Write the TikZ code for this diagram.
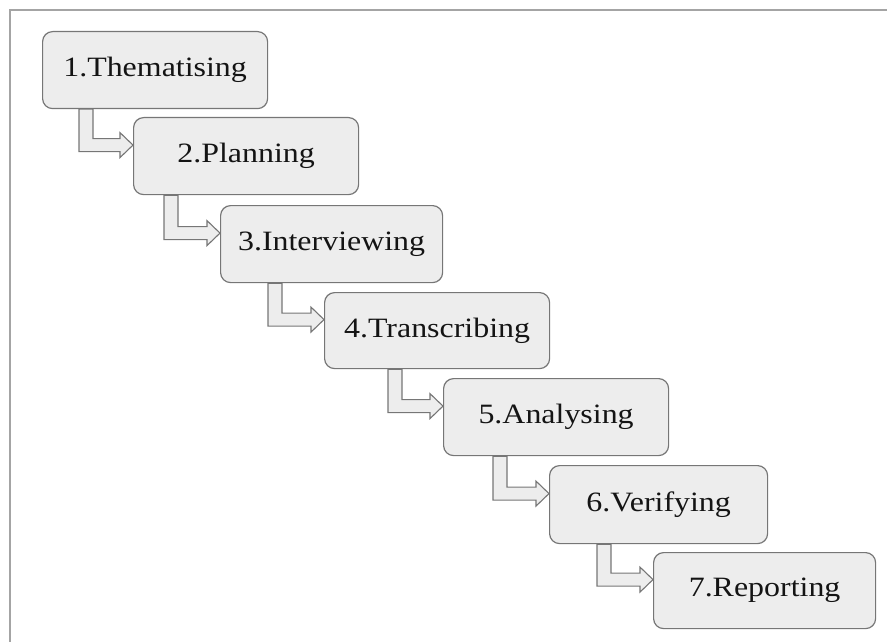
\documentclass[tikz,border=0pt]{standalone}
\usepackage{fontspec}
\setmainfont{Liberation Serif}
\newfontfamily\stepfont[FakeStretch=1.14]{Liberation Serif}
\usetikzlibrary{calc}

\definecolor{boxfill}{HTML}{EDEDED}
\definecolor{boxline}{HTML}{767676}
\definecolor{framegray}{HTML}{A4A4A4}
\definecolor{inkblack}{HTML}{141414}

\tikzset{
  stepbox/.style={draw=boxline, fill=boxfill, line width=1.2pt, rounded corners=10pt,
    anchor=north west, inner sep=0pt, text=inkblack,
    font=\stepfont\fontsize{28}{34}\selectfont},
  flowarrow/.style={draw=boxline, fill=boxfill, line width=1.1pt, line join=miter},
  frameline/.style={draw=framegray, line width=2pt}
}

% hollow bent arrow: down from the bottom of #1, then right into the left side of #2;
% #3 is the offset of the shaft's outer edge from the left side of #1
\newcommand\bentarrow[3]{%
  \draw[flowarrow] let \p1=(#1.south west), \p2=(#2.west) in
    (\x1+#3pt,\y1) -- (\x1+#3pt,\y2+4.5pt) -- (\x2-13pt,\y2+4.5pt)
    -- (\x2-13pt,\y2-1.5pt) -- (\x2,\y2+11pt) -- (\x2-13pt,\y2+23.5pt)
    -- (\x2-13pt,\y2+17.5pt) -- (\x1+#3pt+14pt,\y2+17.5pt)
    -- (\x1+#3pt+14pt,\y1) -- cycle;}

\begin{document}
\begin{tikzpicture}[x=1pt,y=-1pt]
  \useasboundingbox (0,0) rectangle (887,642);

  % outer frame (top and left edges)
  \draw[frameline] (10,642) -- (10,10) -- (887,10);

  % process steps
  \node[stepbox, minimum width=225pt, minimum height=77pt] (s1) at (42,31)  {1.Thematising};
  \node[stepbox, minimum width=225pt, minimum height=77pt] (s2) at (133,117) {2.Planning};
  \node[stepbox, minimum width=222pt, minimum height=77pt] (s3) at (220,205) {3.Interviewing};
  \node[stepbox, minimum width=225pt, minimum height=76pt] (s4) at (324,292) {4.Transcribing};
  \node[stepbox, minimum width=225pt, minimum height=77pt] (s5) at (443,378) {5.Analysing};
  \node[stepbox, minimum width=218pt, minimum height=78pt] (s6) at (549,465) {6.Verifying};
  \node[stepbox, minimum width=222pt, minimum height=76pt] (s7) at (653,552) {7.Reporting};

  % connectors between consecutive steps
  \bentarrow{s1}{s2}{37}
  \bentarrow{s2}{s3}{31}
  \bentarrow{s3}{s4}{48}
  \bentarrow{s4}{s5}{64}
  \bentarrow{s5}{s6}{50}
  \bentarrow{s6}{s7}{48}
\end{tikzpicture}
\end{document}
